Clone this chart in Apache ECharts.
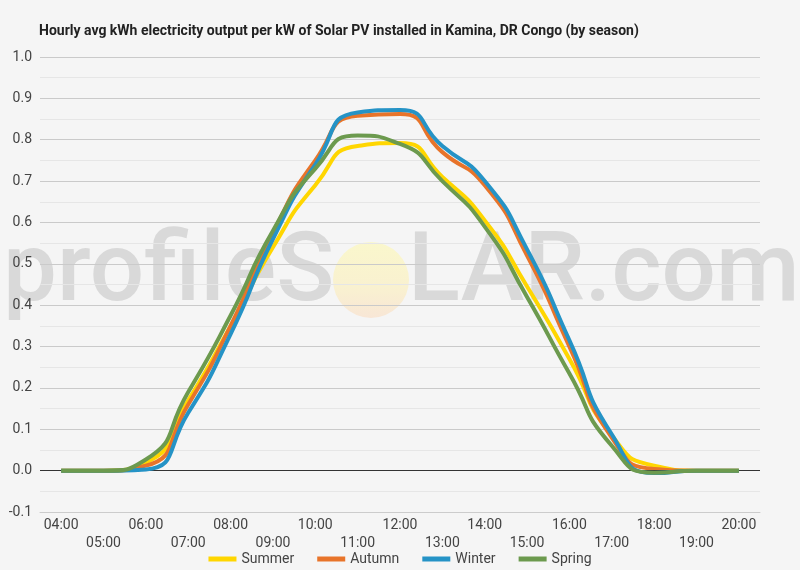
<!DOCTYPE html>
<html>
<head>
<meta charset="utf-8">
<script src="https://cdn.jsdelivr.net/npm/echarts@6/dist/echarts.min.js"></script>
<style>
  html, body { margin: 0; padding: 0; background: #f5f5f5; }
  #chart { width: 800px; height: 570px; }
</style>
</head>
<body>
<div id="chart"></div>
<script>
// hourly categories
const hours = ['04:00', '05:00', '06:00', '07:00', '08:00', '09:00', '10:00', '11:00', '12:00',
  '13:00', '14:00', '15:00', '16:00', '17:00', '18:00', '19:00', '20:00'];

// kWh per kW
const summer = [0, 0, 0.02, 0.17, 0.35, 0.54, 0.69, 0.785, 0.792, 0.71, 0.605, 0.445, 0.27, 0.085, 0.012, 0, 0];
const autumn = [0, 0, 0.012, 0.16, 0.35, 0.575, 0.75, 0.858, 0.862, 0.77, 0.69, 0.52, 0.30, 0.08, 0.004, 0, 0];
const winter = [0, 0, 0.003, 0.14, 0.33, 0.56, 0.74, 0.866, 0.872, 0.785, 0.70, 0.535, 0.315, 0.088, -0.006, 0, 0];
const spring = [0, 0, 0.027, 0.19, 0.375, 0.58, 0.73, 0.81, 0.79, 0.70, 0.59, 0.42, 0.235, 0.06, -0.005, 0, 0];

const seasons = ['Summer', 'Autumn', 'Winter', 'Spring'];
const colors = ['#ffd600', '#e8742a', '#2593c6', '#6c9a4e'];

const chart = echarts.init(document.getElementById('chart'));

const mkSeries = (name, data, i) => ({
  name: name,
  type: 'line',
  data: data,
  smooth: 0.6,
  showSymbol: false,
  lineStyle: { width: 4, color: colors[i] },
  itemStyle: { color: colors[i] },
  z: 3 + i
});

const series = [summer, autumn, winter, spring].map((d, i) => mkSeries(seasons[i], d, i));
// zero line
series[0].markLine = {
  silent: true,
  symbol: 'none',
  label: { show: false },
  lineStyle: { color: '#333', width: 1, type: 'solid' },
  data: [{ yAxis: 0 }]
};

const option = {
  backgroundColor: '#f5f5f5',
  animation: false,
  textStyle: { fontFamily: 'Roboto' },
  title: {
    text: 'Hourly avg kWh electricity output per kW of Solar PV installed in Kamina, DR Congo (by season)',
    left: 34,
    top: 19,
    textStyle: { fontSize: 14, fontWeight: 'bold', color: '#222', fontFamily: 'Roboto' }
  },
  graphic: [
    {
      type: 'circle',
      z: -10,
      silent: true,
      shape: { cx: 371, cy: 280, r: 38 },
      style: {
        fill: new echarts.graphic.LinearGradient(0, 0, 0, 1, [
          { offset: 0, color: '#faf7cc' },
          { offset: 0.6, color: '#f9f1d0' },
          { offset: 1, color: '#f8e6d6' }
        ])
      }
    },
    {
      type: 'text',
      z: -9,
      silent: true,
      left: 3,
      top: 228,
      style: { text: 'profileS', fontSize: 96, fontWeight: 500, fontFamily: 'Roboto', fill: '#d9d9d9' }
    },
    {
      type: 'text',
      z: -9,
      silent: true,
      left: 408,
      top: 228,
      style: { text: 'LAR.com', fontSize: 96, fontWeight: 500, fontFamily: 'Roboto', fill: '#d9d9d9' }
    }
  ],
  legend: {
    data: seasons,
    bottom: -1,
    left: 'center',
    icon: 'rect',
    itemWidth: 28,
    itemHeight: 5,
    itemGap: 23,
    textStyle: { fontSize: 14, color: '#444' }
  },
  grid: { left: 40, right: 40, top: 57, bottom: 58 },
  xAxis: {
    type: 'category',
    data: hours,
    boundaryGap: true,
    axisLine: { onZero: false, lineStyle: { color: '#ccc' } },
    axisTick: { show: false },
    axisLabel: {
      interval: 0,
      fontSize: 14,
      color: '#444',
      lineHeight: 18,
      margin: 4,
      formatter: (v, i) => (i % 2 === 1 ? '\n' + v : v)
    }
  },
  yAxis: {
    type: 'value',
    min: -0.1,
    max: 1.0,
    interval: 0.1,
    axisLine: { show: false },
    axisTick: { show: false },
    axisLabel: {
      fontSize: 14,
      color: '#444',
      margin: 8,
      formatter: v => v.toFixed(1)
    },
    splitLine: { lineStyle: { color: '#cacaca' } },
    minorTick: { show: false, splitNumber: 2 },
    minorSplitLine: { show: true, lineStyle: { color: '#e6e6e6' } }
  },
  series: series
};

chart.setOption(option);
</script>
</body>
</html>
